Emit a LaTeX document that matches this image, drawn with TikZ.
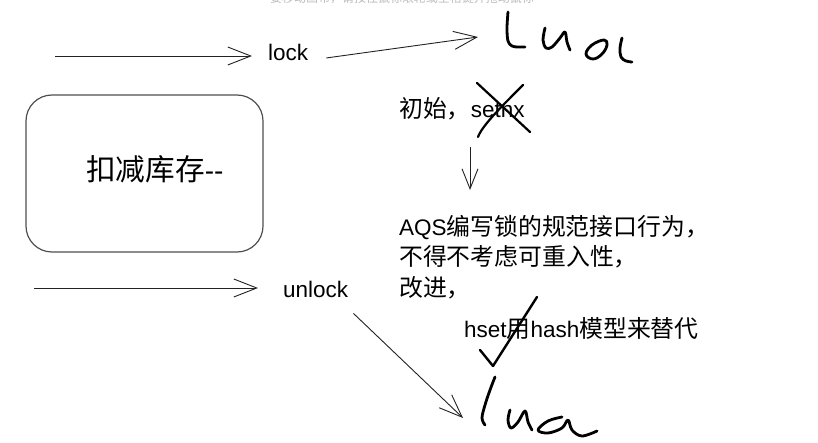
\documentclass[tikz,border=0pt]{standalone}
\usepackage{fontspec}
\setmainfont{Liberation Sans}
\newfontfamily\zh[Scale=1.06]{Noto Sans CJK SC}
\usepackage{tikz}
\usetikzlibrary{arrows.meta,positioning}
\definecolor{ink}{HTML}{222222}
\definecolor{hintgray}{HTML}{BBBBBB}
\tikzset{
  arr/.style={draw=ink,line width=0.9pt,-{Straight Barb[length=23pt,width=18pt,line width=0.9pt]}},
  hand/.style={line width=2.8pt,line cap=round,line join=round},
  txt/.style={inner sep=0pt,font=\fontsize{22.5}{30.5}\selectfont},
}

\begin{document}
\begin{tikzpicture}[x=1pt,y=-1pt]
\useasboundingbox (0,0) rectangle (818,443);
\begin{scope}
\clip (0,0) rectangle (818,443);
\node[inner sep=0pt,hintgray,font=\fontsize{11.3}{12}\zh,anchor=base] (hint) at (402,3) {要移动画布，请按住鼠标滚轮或空格键并拖动鼠标};
\end{scope}
% box and texts
\node[draw=ink!80,line width=1.2pt,rounded corners=26pt,minimum width=237pt,minimum height=157pt] (stock) at (144.5,173.5) {};
\node[txt,font=\fontsize{28}{30}\selectfont,anchor=base west] (stocktxt) at (86,181) {{\zh 扣减库存}-{}-};
\node[txt,anchor=base west] (lock) at (268,61) {lock};
\node[txt,anchor=base west] (unlock) at (283,297) {unlock};
\node[txt,anchor=base west] (init) at (399,118) {{\zh 初始，}setnx};
\node[txt,anchor=base west,align=left] (aqs) at (399,296) {AQS{\zh 编写锁的规范接口行为，}\\{\zh 不得不考虑可重入性，}\\{\zh 改进，}};
\node[txt,anchor=base west] (hset) at (464,337) {hset{\zh 用}hash{\zh 模型来替代}};
\coordinate (lockin) at (55,56);
\coordinate (unlockin) at (34,288);
\coordinate (luotip) at (478,37);
\coordinate (luatip) at (463,418);
% connectors
\draw[arr,shorten >=16pt] (lockin) -- (lockin -| lock.west);
\draw[arr,shorten >=25pt] (unlockin) -- (unlockin -| unlock.west);
\draw[arr] ([shift={(18,5)}]lock.east) -- (luotip);
\draw[arr] ([shift={(5,16)}]unlock.south east) -- (luatip);
\draw[arr,-{Straight Barb[length=20pt,width=16pt,line width=0.9pt]}] ([shift={(71,0)}]init.south west |- 0,147) -- ([shift={(71,0)}]init.south west |- 0,190);
% handwriting
\draw[hand] plot[smooth,tension=0.6] coordinates {(508,12) (507,28) (508,41) (512,46) (518,47) (525,47)};
\draw[hand] plot[smooth,tension=0.6] coordinates {(545,28) (543,40) (546,48) (552,47) (560,38) (565,32) (567,42) (570,50)};
\draw[hand] plot[smooth cycle,tension=0.7] coordinates {(604,40) (592,45) (586,54) (593,59) (602,54) (607,45)};
\draw[hand] plot[smooth,tension=0.6] coordinates {(622,38) (620,48) (621,57) (626,61) (632,62)};
\draw[hand] plot[smooth,tension=0.6] coordinates {(495,377) (490,390) (485,405) (482,418) (485,425)};
\draw[hand] plot[smooth,tension=0.6] coordinates {(510,410) (508,420) (511,428) (518,422) (525,411) (528,422) (532,430)};
\draw[hand] plot[smooth,tension=0.6] coordinates {(562,417) (548,421) (538,430) (548,433) (562,428) (568,420) (572,430) (582,436) (597,431)};
% cross and tick
\draw[hand,line width=2.2pt] (477,83) -- (530,132);
\draw[hand,line width=2.2pt] (523,85) .. controls (500,108) and (482,126) .. (478,137);
\draw[hand,line width=2.4pt] (480,350) -- (493,366) -- (537,297);
\end{tikzpicture}
\end{document}
